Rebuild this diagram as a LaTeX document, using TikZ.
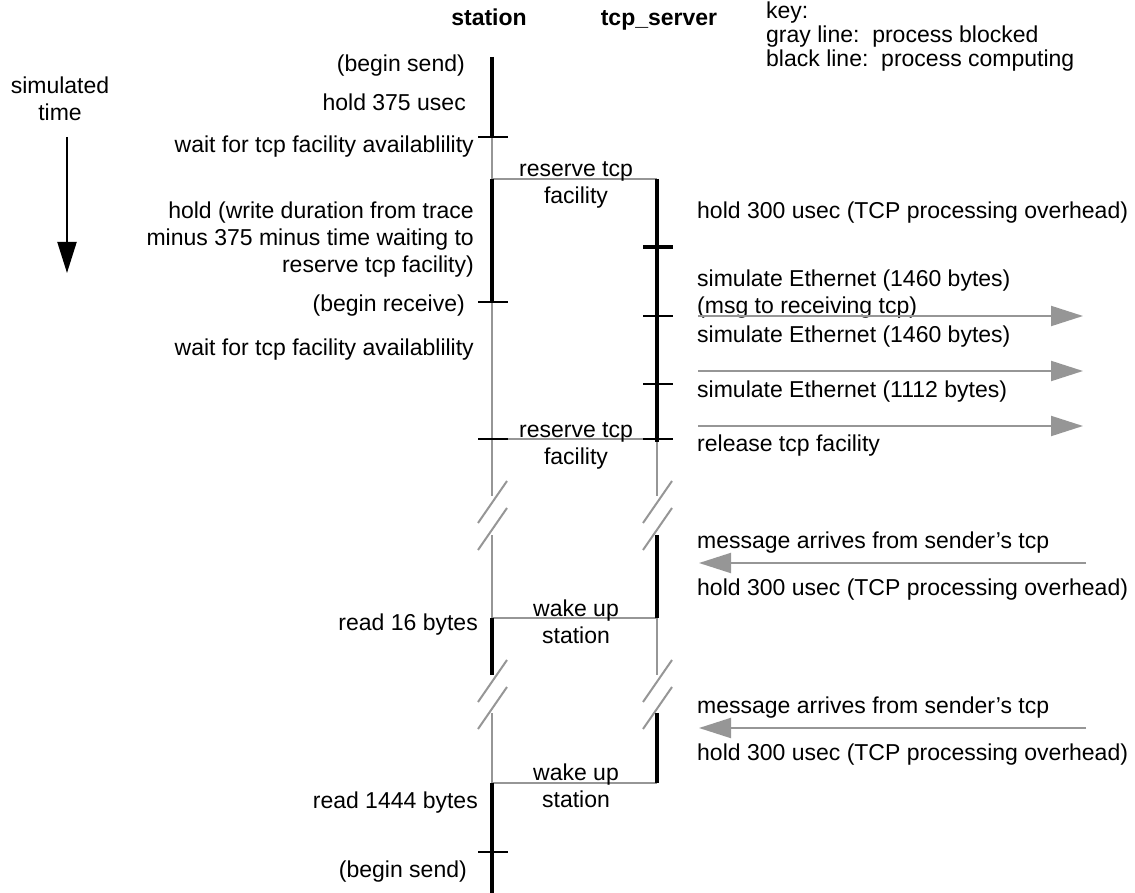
\documentclass[tikz,border=0pt]{standalone}
\usepackage{fontspec}
\setmainfont{Liberation Sans}
\usetikzlibrary{arrows.meta}
\definecolor{lifegray}{RGB}{150,150,150}
\newcommand\lblfont{\fontsize{23}{27}\selectfont}
\newcommand\keyfont{\fontsize{23}{21}\selectfont}
\begin{document}
\begin{tikzpicture}[x=1pt,y=-1pt,
  every node/.style={inner sep=0pt, font=\lblfont},
  blocked/.style={draw=lifegray, line width=2pt},
  computing/.style={draw=black, line width=4.5pt},
  tickmark/.style={draw=black, line width=2.5pt},
  bigtick/.style={draw=black, line width=4pt},
  breakmark/.style={draw=lifegray, line width=2pt},
  handoff/.style={draw=lifegray, line width=2pt},
  msg/.style={draw=lifegray, line width=2pt, -{Triangle[length=32pt,width=20pt]}},
  timearrow/.style={draw=black, line width=2pt, -{Triangle[length=31pt,width=19pt]}},
  leftlbl/.style={anchor=east},
  rightlbl/.style={anchor=west},
  midlbl/.style={align=center},
  header/.style={font=\lblfont\bfseries},
]
\useasboundingbox (0,0) rectangle (1135,893);

% ---- headers and key ----
\node[header] (h-station) at (489,20) {\strut station};
\node[header] (h-tcp) at (659,20) {\strut tcp\_server};
\node[anchor=north west, align=left, font=\keyfont] (key) at (766,2)
  {\strut key:\\\strut gray line:\ \ process blocked\\\strut black line:\ \ process computing};

% ---- simulated time ----
\node[align=center] (simtime) at (60,101.5) {\strut simulated\\\strut time};
\coordinate (time-top) at (67,137);
\coordinate (time-tip) at (67,273);
\draw[timearrow] (time-top) -- (time-tip);

% ---- station lifeline events ----
\coordinate (s-start) at (492,57);
\coordinate (s-wait1) at (492,137);
\coordinate (s-res1)  at (492,179);
\coordinate (s-recv)  at (492,302);
\coordinate (s-res2)  at (492,439);
\coordinate (s-cut1a) at (492,496);
\coordinate (s-cut1b) at (492,535);
\coordinate (s-wake1) at (492,618);
\coordinate (s-cut2a) at (492,675);
\coordinate (s-cut2b) at (492,713);
\coordinate (s-wake2) at (492,783);
\coordinate (s-send)  at (492,852);
\coordinate (s-end)   at (492,893);

% ---- tcp_server lifeline events ----
\coordinate (t-res1)  at (657,179);
\coordinate (t-hold)  at (657,247);
\coordinate (t-eth1)  at (657,316);
\coordinate (t-eth2)  at (657,384);
\coordinate (t-res2)  at (657,439);
\coordinate (t-idle)  at (657,442);
\coordinate (t-cut1a) at (657,496);
\coordinate (t-cut1b) at (657,535);
\coordinate (t-wake1) at (657,618);
\coordinate (t-cut2a) at (657,675);
\coordinate (t-cut2b) at (657,713);
\coordinate (t-wake2) at (657,783);

% ---- hand-offs between the processes ----
\draw[handoff] (s-res1) -- (t-res1);
\draw[handoff] (s-res2) -- (t-res2);
\draw[handoff] (s-wake1) -- (t-wake1);
\draw[handoff] (s-wake2) -- (t-wake2);

% ---- station: blocked (gray) and computing (black) ----
\draw[blocked] (s-wait1) -- (s-res1);
\draw[blocked] (s-recv) -- (s-cut1a);
\draw[blocked] (s-cut1b) -- (s-wake1);
\draw[blocked] (s-cut2b) -- (s-wake2);
\draw[computing] (s-start) -- (s-wait1);
\draw[computing] (s-res1) -- (s-recv);
\draw[computing] (s-wake1) -- (s-cut2a);
\draw[computing] (s-wake2) -- (s-end);

% ---- tcp_server: blocked (gray) and computing (black) ----
\draw[blocked] (t-idle) -- (t-cut1a);
\draw[blocked] (t-wake1) -- (t-cut2a);
\draw[computing] (t-res1) -- (t-idle);
\draw[computing] (t-cut1b) -- (t-wake1);
\draw[computing] (t-cut2b) -- (t-wake2);

% ---- event ticks ----
\foreach \c in {s-wait1,s-recv,s-res2,s-send}
  \draw[tickmark] ([xshift=-14pt]\c) -- ([xshift=16pt]\c);
\foreach \c in {t-eth1,t-eth2,t-res2}
  \draw[tickmark] ([xshift=-14pt]\c) -- ([xshift=16pt]\c);
\draw[bigtick] ([xshift=-14pt]t-hold) -- ([xshift=16pt]t-hold);

% ---- time-break marks ----
\foreach \x in {492,657}
  \foreach \y in {502,529,681,708}
    \draw[breakmark] (\x+15,\y-21) -- (\x-14,\y+21);

% ---- station labels ----
\node[leftlbl] (l-send1) at (465,66) {\strut (begin send)};
\node[leftlbl] (l-hold375) at (466,105) {\strut hold 375 usec};
\node[leftlbl] (l-wait1) at (474,147) {\strut wait for tcp facility availablility};
\node[leftlbl, align=right] (l-holdw) at (474,240)
  {\strut hold (write duration from trace\\\strut minus 375 minus time waiting to\\\strut reserve tcp facility)};
\node[leftlbl] (l-recv) at (465,306) {\strut (begin receive)};
\node[leftlbl] (l-wait2) at (474,350) {\strut wait for tcp facility availablility};
\node[leftlbl] (l-read16) at (478,625) {\strut read 16 bytes};
\node[leftlbl] (l-read1444) at (478,803) {\strut read 1444 bytes};
\node[leftlbl] (l-send2) at (467,872) {\strut (begin send)};

% ---- hand-off labels ----
\node[midlbl] (m-res1) at (576,185) {\strut reserve tcp\\\strut facility};
\node[midlbl] (m-res2) at (576,446) {\strut reserve tcp\\\strut facility};
\node[midlbl] (m-wake1) at (576,625) {\strut wake up\\\strut station};
\node[midlbl] (m-wake2) at (576,789) {\strut wake up\\\strut station};

% ---- tcp_server labels ----
\node[rightlbl] (r-hold1) at (697,213) {\strut hold 300 usec (TCP processing overhead)};
\node[rightlbl, align=left] (r-eth1) at (697,295) {\strut simulate Ethernet (1460 bytes)\\\strut (msg to receiving tcp)};
\node[rightlbl] (r-eth2) at (697,337) {\strut simulate Ethernet (1460 bytes)};
\node[rightlbl] (r-eth3) at (697,392) {\strut simulate Ethernet (1112 bytes)};
\node[rightlbl] (r-rel) at (697,446) {\strut release tcp facility};
\node[rightlbl] (r-arr1) at (697,543) {\strut message arrives from sender’s tcp};
\node[rightlbl] (r-hold2) at (697,590) {\strut hold 300 usec (TCP processing overhead)};
\node[rightlbl] (r-arr2) at (697,708) {\strut message arrives from sender’s tcp};
\node[rightlbl] (r-hold3) at (697,755) {\strut hold 300 usec (TCP processing overhead)};

% ---- messages on the network ----
\coordinate (out1-a) at (698,316);  \coordinate (out1-b) at (1083,316);
\coordinate (out2-a) at (698,371);  \coordinate (out2-b) at (1083,371);
\coordinate (out3-a) at (698,426);  \coordinate (out3-b) at (1083,426);
\coordinate (in1-a)  at (1086,563); \coordinate (in1-b)  at (699,563);
\coordinate (in2-a)  at (1086,728); \coordinate (in2-b)  at (699,728);
\draw[msg] (out1-a) -- (out1-b);
\draw[msg] (out2-a) -- (out2-b);
\draw[msg] (out3-a) -- (out3-b);
\draw[msg] (in1-a) -- (in1-b);
\draw[msg] (in2-a) -- (in2-b);
\end{tikzpicture}
\end{document}
